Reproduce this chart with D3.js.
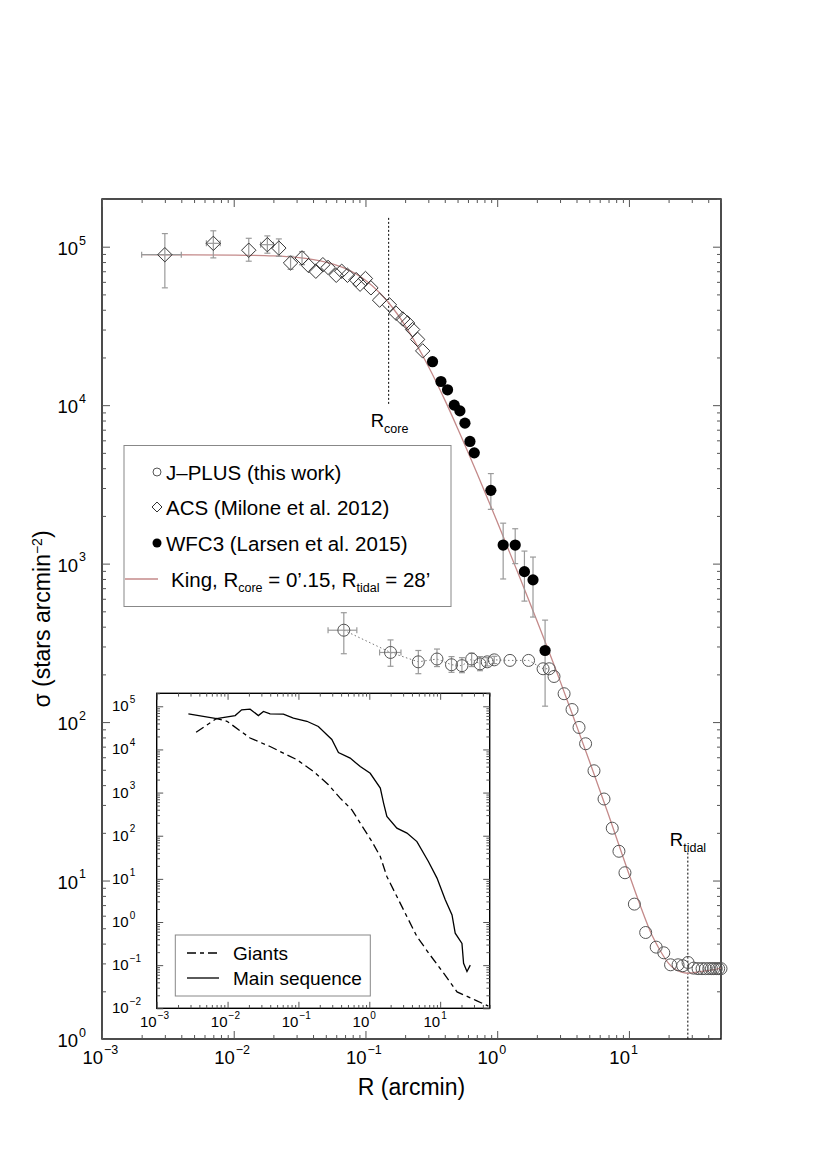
<!DOCTYPE html>
<html>
<head>
<meta charset="utf-8">
<script src="https://cdn.jsdelivr.net/npm/d3@7"></script>
<style>
body { margin: 0; background: #fff; }
text { font-family: "Liberation Sans", Arial, Helvetica, sans-serif; fill: #000; }
</style>
</head>
<body>
<div id="chart"></div>
<script>
// ---- data ----
// ACS (Milone et al. 2012)
var acsR  = [0.0030, 0.0070, 0.013, 0.018, 0.022, 0.027, 0.033, 0.037, 0.042, 0.0475, 0.052, 0.060, 0.066,
             0.073, 0.085, 0.091, 0.100, 0.110, 0.128, 0.152, 0.171, 0.192, 0.209, 0.228, 0.249, 0.272];
var acsS  = [8.9e4, 1.05e5, 9.5e4, 1.03e5, 9.8e4, 7.9e4, 8.5e4, 7.6e4, 7.0e4, 7.7e4, 7.4e4, 6.6e4, 7.0e4,
             6.6e4, 6.2e4, 5.8e4, 6.3e4, 5.5e4, 4.6e4, 4.3e4, 3.8e4, 3.5e4, 3.3e4, 3.0e4, 2.6e4, 2.2e4];
var acsLo = [5.5e4, 8.5e4, 8.1e4, 9.1e4, 8.7e4, 7.2e4, 7.7e4, null, null, null, null, null, null,
             null, null, null, null, null, null, null, null, null, null, null, null, null];
var acsHi = [1.21e5, 1.26e5, 1.13e5, 1.17e5, 1.12e5, 8.7e4, 9.3e4, null, null, null, null, null, null,
             null, null, null, null, null, null, null, null, null, null, null, null, null];
var acsXLo = [0.0020, 0.0062, null, 0.016];
var acsXHi = [0.0040, 0.0079, null, 0.020];

// WFC3 (Larsen et al. 2015)
var wfcR  = [0.323, 0.374, 0.42, 0.472, 0.521, 0.569, 0.621, 0.67, 0.895, 1.11, 1.37, 1.61, 1.87, 2.31];
var wfcS  = [1.88e4, 1.41e4, 1.25e4, 1.0e4, 9.2e3, 7.7e3, 5.9e3, 5.0e3, 2.9e3, 1.31e3, 1.31e3, 890, 790, 283];
var wfcLo = [null, null, null, null, null, null, null, null, 2.2e3, 800, 1.0e3, 580, 460, 126];
var wfcHi = [null, null, null, null, null, null, null, null, 3.7e3, 1.8e3, 1.66e3, 1.2e3, 1.1e3, 440];

// J-PLUS (this work)
var jpR  = [0.0685, 0.155, 0.252, 0.349, 0.45, 0.54, 0.64, 0.74, 0.84, 0.95, 1.25, 1.73, 2.23, 2.48, 2.70,
            3.22, 3.70, 4.18, 4.69, 5.43, 6.47, 7.47, 8.4, 9.33, 11.0, 13.4, 16.1, 18.4, 20.7, 23.6, 25.6,
            28.1, 31.0, 33.5, 35.9, 38.1, 40.4, 42.3, 44.0, 46.0, 48.0, 50.0];
var jpS  = [380, 275, 240, 250, 230, 227, 250, 233, 240, 247, 245, 245, 217, 217, 194,
            151, 120, 92.5, 73, 49.3, 32.7, 21.4, 15.3, 11.2, 7.1, 4.7, 3.8, 3.5, 2.94, 2.94, 2.9,
            3.04, 2.8, 2.78, 2.78, 2.78, 2.78, 2.78, 2.78, 2.78, 2.78, 2.78];
var jpLo = [270, 225, 202, 224, 206, 205, 224, 211, 226, 234];
var jpHi = [490, 330, 283, 289, 259, 255, 272, 259, 255, 260];
var jpXLo = [0.052, 0.128];
var jpXHi = [0.086, 0.186];

// King profile, Rcore = 0'.15, Rtidal = 28'
var kingR = [0.002, 0.005, 0.01, 0.02, 0.03, 0.05, 0.07, 0.1, 0.15, 0.2, 0.3, 0.4, 0.5, 0.7, 1, 1.5, 2, 3,
             4, 5, 7, 10, 12, 15, 17, 20, 25, 28, 35, 42, 50];
var kingS = [8.9e4, 8.89e4, 8.86e4, 8.75e4, 8.56e4, 8.0e4, 7.3e4, 6.15e4, 4.43e4, 3.18e4, 1.76e4, 1.08e4, 7160,
             3750, 1840, 800, 437, 182, 95, 57, 26, 11, 7.2, 4.5, 3.7, 3.0, 2.64, 2.6, 2.66, 2.72, 2.8];

// inset: main sequence and giants
var msR = [0.0028, 0.0070, 0.0128, 0.0158, 0.0208, 0.0272, 0.0321, 0.0398, 0.0614, 0.0849, 0.1315, 0.191,
           0.252, 0.296, 0.367, 0.537, 0.745, 1.03, 1.43, 1.59, 1.77, 2.45, 3.40, 4.70, 6.85, 9.02, 11.8,
           14.7, 16.3, 20.3, 21.4, 23.9, 26.6];
var msS = [6.7e4, 5.2e4, 6.1e4, 8.3e4, 8.6e4, 6.1e4, 7.6e4, 6.7e4, 6.6e4, 5.3e4, 4.5e4, 3.4e4,
           2.2e4, 1.7e4, 8.5e3, 6.3e3, 4.0e3, 2.8e3, 1.27e3, 570, 279, 150, 115, 73, 25, 10.4, 3.3,
           1.46, 0.55, 0.32, 0.11, 0.071, 0.10];
var giR = [0.0036, 0.0070, 0.0098, 0.0208, 0.0398, 0.0686, 0.0948, 0.163, 0.265, 0.388, 0.568, 0.745,
           1.09, 1.43, 1.77, 2.45, 3.40, 4.70, 7.24, 11.2, 17.3, 31.3, 47.9];
var giS = [2.5e4, 5.2e4, 4.5e4, 1.84e4, 1.17e4, 7.5e3, 5.8e3, 3.1e3, 1.52e3, 745, 399, 196,
           73, 33, 11.3, 3.9, 1.33, 0.46, 0.17, 0.065, 0.024, 0.0155, 0.0112];

var xMajor = [1e-3, 1e-2, 1e-1, 1, 10];
var xExp = ["−3", "−2", "−1", "0", "1"];
var yMajor = [1, 10, 100, 1e3, 1e4, 1e5];
var yExp = ["0", "1", "2", "3", "4", "5"];
var iyMajor = [1e-2, 1e-1, 1, 10, 100, 1e3, 1e4, 1e5];
var iyExp = ["−2", "−1", "0", "1", "2", "3", "4", "5"];

// ---- layout ----
var W = 827, H = 1170;
var margin = { top: 199, right: 106, bottom: 131, left: 102 };
var width = W - margin.left - margin.right,
    height = H - margin.top - margin.bottom;

var svg = d3.select("#chart").append("svg")
    .attr("width", W)
    .attr("height", H);

var g = svg.append("g")
    .attr("transform", "translate(" + margin.left + "," + margin.top + ")");

var x = d3.scaleLog().domain([1e-3, 50]).range([0, width]);
var y = d3.scaleLog().domain([1, 2e5]).range([height, 0]);

function zip(a, b) {
    return a.map(function(v, i){ return { r: v, s: b[i], i: i }; });
}

function drawTicks(grp, axisFn, tr, vals, size) {
    var a = grp.append("g")
        .attr("transform", tr)
        .call(axisFn.tickValues(vals).tickSize(-size).tickFormat(""));
    a.select(".domain").remove();
    a.selectAll("line").attr("stroke", "#555").attr("stroke-width", 1);
}

// ticks on all four sides, pointing in
function allTicks(grp, xs, ys, w, h, maj, min, xMaj, yMaj) {
    var xMin = xs.ticks().filter(function(t){ return !xMaj.some(function(m){ return Math.abs(m - t) / m < 1e-6; }); });
    var yMin = ys.ticks().filter(function(t){ return !yMaj.some(function(m){ return Math.abs(m - t) / m < 1e-6; }); });
    drawTicks(grp, d3.axisBottom(xs), "translate(0," + h + ")", xMaj, maj);
    drawTicks(grp, d3.axisBottom(xs), "translate(0," + h + ")", xMin, min);
    drawTicks(grp, d3.axisTop(xs), "translate(0,0)", xMaj, maj);
    drawTicks(grp, d3.axisTop(xs), "translate(0,0)", xMin, min);
    drawTicks(grp, d3.axisLeft(ys), "translate(0,0)", yMaj, maj);
    drawTicks(grp, d3.axisLeft(ys), "translate(0,0)", yMin, min);
    drawTicks(grp, d3.axisRight(ys), "translate(" + w + ",0)", yMaj, maj);
    drawTicks(grp, d3.axisRight(ys), "translate(" + w + ",0)", yMin, min);
}

// "10" with superscript exponent; the "10" ends at ex
function powLabel(grp, ex, by, exp, fs, sfs) {
    grp.append("text").attr("x", ex).attr("y", by)
        .attr("text-anchor", "end").attr("font-size", fs).text("10");
    grp.append("text").attr("x", ex + 1).attr("y", by - fs * 0.55)
        .attr("font-size", sfs).text(exp);
}

// ---- main panel ----
g.append("rect").attr("width", width).attr("height", height)
    .attr("fill", "none").attr("stroke", "#000").attr("stroke-width", 1.4);

allTicks(g, x, y, width, height, 8, 4, xMajor, yMajor);

xMajor.forEach(function(t, i){
    powLabel(g, x(t) + 1, height + 25, xExp[i], 18.5, 12.5);
});
yMajor.forEach(function(t, i){
    powLabel(g, -24, y(t) + 8, yExp[i], 18.5, 12.5);
});

g.append("text")
    .attr("x", width / 2).attr("y", height + 56)
    .attr("text-anchor", "middle").attr("font-size", 23)
    .text("R (arcmin)");

var yt = g.append("text")
    .attr("transform", "translate(-52," + (height / 2) + ") rotate(-90)")
    .attr("text-anchor", "middle").attr("font-size", 23);
yt.append("tspan").text("σ (stars arcmin");
yt.append("tspan").attr("dy", -8).attr("font-size", 14).text("−2");
yt.append("tspan").attr("dy", 8).text(")");

// R_core and R_tidal markers
g.append("line")
    .attr("x1", x(0.15)).attr("x2", x(0.15))
    .attr("y1", y(1.52e5)).attr("y2", y(1.0e4))
    .attr("stroke", "#000").attr("stroke-width", 1).attr("stroke-dasharray", "2,2");
var rc = g.append("text").attr("x", x(0.15) - 18).attr("y", y(1.0e4) + 22).attr("font-size", 18.5);
rc.append("tspan").text("R");
rc.append("tspan").attr("dy", 6).attr("font-size", 12.5).text("core");

g.append("line")
    .attr("x1", x(28)).attr("x2", x(28))
    .attr("y1", y(15)).attr("y2", height)
    .attr("stroke", "#000").attr("stroke-width", 1).attr("stroke-dasharray", "2,2");
var rt = g.append("text").attr("x", x(28) - 18).attr("y", y(15) - 7).attr("font-size", 18.5);
rt.append("tspan").text("R");
rt.append("tspan").attr("dy", 6).attr("font-size", 12.5).text("tidal");

// King profile
var line = d3.line()
    .x(function(d){ return x(d.r); })
    .y(function(d){ return y(d.s); })
    .curve(d3.curveMonotoneX);

g.append("path")
    .datum(zip(kingR, kingS))
    .attr("d", line)
    .attr("fill", "none").attr("stroke", "#c48a8a").attr("stroke-width", 1.3);

// dotted line joining the flat J-PLUS points
g.append("path")
    .datum(zip(jpR, jpS).filter(function(d){ return d.r < 2.6; }))
    .attr("d", d3.line().x(function(d){ return x(d.r); }).y(function(d){ return y(d.s); }))
    .attr("fill", "none").attr("stroke", "#777").attr("stroke-width", 1).attr("stroke-dasharray", "1.5,2.5");

// error bars
function errBars(grp, R, S, lo, hi, xlo, xhi) {
    var eb = grp.append("g").attr("stroke", "#9a9a9a").attr("stroke-width", 1.2);
    R.forEach(function(r, i){
        var cx = x(r), cy = y(S[i]);
        if (lo[i] != null) {
            eb.append("line").attr("x1", cx).attr("x2", cx).attr("y1", y(lo[i])).attr("y2", y(hi[i]));
            eb.append("line").attr("x1", cx - 3).attr("x2", cx + 3).attr("y1", y(lo[i])).attr("y2", y(lo[i]));
            eb.append("line").attr("x1", cx - 3).attr("x2", cx + 3).attr("y1", y(hi[i])).attr("y2", y(hi[i]));
        }
        if (xlo && xlo[i] != null) {
            eb.append("line").attr("x1", x(xlo[i])).attr("x2", x(xhi[i])).attr("y1", cy).attr("y2", cy);
            eb.append("line").attr("x1", x(xlo[i])).attr("x2", x(xlo[i])).attr("y1", cy - 3).attr("y2", cy + 3);
            eb.append("line").attr("x1", x(xhi[i])).attr("x2", x(xhi[i])).attr("y1", cy - 3).attr("y2", cy + 3);
        }
    });
}
errBars(g, acsR, acsS, acsLo, acsHi, acsXLo, acsXHi);
errBars(g, wfcR, wfcS, wfcLo, wfcHi);
errBars(g, jpR, jpS, jpLo, jpHi, jpXLo, jpXHi);

// markers
var diamond = function(h){ return "M0," + (-h) + "L" + h + ",0L0," + h + "L" + (-h) + ",0Z"; };

g.append("g").selectAll("path")
    .data(zip(acsR, acsS))
    .enter().append("path")
    .attr("transform", function(d){ return "translate(" + x(d.r) + "," + y(d.s) + ")"; })
    .attr("d", diamond(7.2))
    .attr("fill", "none").attr("stroke", "#333").attr("stroke-width", 1);

g.append("g").selectAll("circle")
    .data(zip(jpR, jpS))
    .enter().append("circle")
    .attr("cx", function(d){ return x(d.r); })
    .attr("cy", function(d){ return y(d.s); })
    .attr("r", 6)
    .attr("fill", "none").attr("stroke", "#555").attr("stroke-width", 1);

g.append("g").selectAll("circle")
    .data(zip(wfcR, wfcS))
    .enter().append("circle")
    .attr("cx", function(d){ return x(d.r); })
    .attr("cy", function(d){ return y(d.s); })
    .attr("r", 5.6)
    .attr("fill", "#000");

// ---- legend ----
var lg = svg.append("g");
lg.append("rect").attr("x", 124).attr("y", 445.5).attr("width", 327).attr("height", 161)
    .attr("fill", "#fff").attr("stroke", "#888").attr("stroke-width", 1);
var ly = [473, 508, 544, 580];
lg.append("circle").attr("cx", 157).attr("cy", ly[0] - 1).attr("r", 4)
    .attr("fill", "none").attr("stroke", "#555");
lg.append("path").attr("transform", "translate(157," + (ly[1] - 1) + ")").attr("d", diamond(5))
    .attr("fill", "none").attr("stroke", "#333");
lg.append("circle").attr("cx", 157).attr("cy", ly[2] - 1).attr("r", 4.5).attr("fill", "#000");
lg.append("line").attr("x1", 125).attr("x2", 158).attr("y1", ly[3] - 1).attr("y2", ly[3] - 1)
    .attr("stroke", "#c48a8a").attr("stroke-width", 1.3);
var lt = ["J–PLUS (this work)", "ACS (Milone et al. 2012)", "WFC3 (Larsen et al. 2015)"];
lt.forEach(function(t, i){
    lg.append("text").attr("x", 166).attr("y", ly[i] + 7).attr("font-size", 20.5).text(t);
});
var kt = lg.append("text").attr("x", 171).attr("y", ly[3] + 7).attr("font-size", 20.5);
kt.append("tspan").text("King, R");
kt.append("tspan").attr("dy", 5).attr("font-size", 12.5).text("core");
kt.append("tspan").attr("dy", -5).text(" = 0’.15, R");
kt.append("tspan").attr("dy", 5).attr("font-size", 12.5).text("tidal");
kt.append("tspan").attr("dy", -5).text(" = 28’");

// ---- inset ----
var inset = { left: 156.7, top: 693.3, width: 333, height: 315 };
var ig = svg.append("g")
    .attr("transform", "translate(" + inset.left + "," + inset.top + ")");
var ix = d3.scaleLog().domain([1e-3, 50]).range([0, inset.width]);
var iy = d3.scaleLog().domain([1e-2, 2e5]).range([inset.height, 0]);

ig.append("rect").attr("width", inset.width).attr("height", inset.height)
    .attr("fill", "#fff").attr("stroke", "#000").attr("stroke-width", 1.4);
allTicks(ig, ix, iy, inset.width, inset.height, 6.5, 3.3, xMajor, iyMajor);

xMajor.forEach(function(t, i){
    powLabel(ig, ix(t), inset.height + 19, xExp[i], 15, 10);
});
iyMajor.forEach(function(t, i){
    powLabel(ig, -28, iy(t) + 5, iyExp[i], 15, 10);
});

var iline = d3.line()
    .x(function(d){ return ix(d.r); })
    .y(function(d){ return iy(d.s); });

ig.append("path").datum(zip(msR, msS)).attr("d", iline)
    .attr("fill", "none").attr("stroke", "#000").attr("stroke-width", 1.3);
ig.append("path").datum(zip(giR, giS)).attr("d", iline)
    .attr("fill", "none").attr("stroke", "#000").attr("stroke-width", 1.3)
    .attr("stroke-dasharray", "9,4,4,4");

// inset legend
var ilg = svg.append("g");
ilg.append("rect").attr("x", 175.3).attr("y", 935).attr("width", 195).attr("height", 61)
    .attr("fill", "#fff").attr("stroke", "#888").attr("stroke-width", 1);
ilg.append("line").attr("x1", 187).attr("x2", 219).attr("y1", 953).attr("y2", 953)
    .attr("stroke", "#000").attr("stroke-width", 1.3).attr("stroke-dasharray", "9,4,4,4");
ilg.append("line").attr("x1", 187).attr("x2", 219).attr("y1", 978).attr("y2", 978)
    .attr("stroke", "#000").attr("stroke-width", 1.3);
ilg.append("text").attr("x", 233).attr("y", 960).attr("font-size", 19).text("Giants");
ilg.append("text").attr("x", 233).attr("y", 985).attr("font-size", 19).text("Main sequence");
</script>
</body>
</html>
